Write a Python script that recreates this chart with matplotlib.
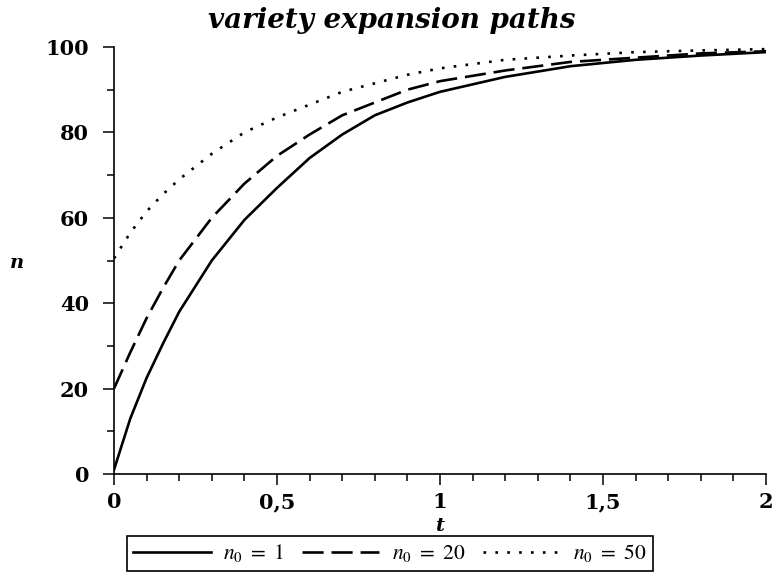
import matplotlib
matplotlib.use("Agg")
import matplotlib.pyplot as plt
from matplotlib.ticker import MultipleLocator, FuncFormatter

# values
t = [0, 0.05, 0.1, 0.15, 0.2, 0.3, 0.4, 0.5, 0.6, 0.7, 0.8, 0.9, 1.0, 1.2, 1.4, 1.6, 1.8, 2.0]
n_1 = [1, 13, 22.5, 30.5, 38, 50, 59.5, 67, 74, 79.5, 84, 87, 89.5, 93, 95.5, 97, 98, 98.8]
n_20 = [20, 28.5, 36.5, 43.5, 50, 60, 68, 74.5, 79.5, 84, 87, 90, 92, 94.5, 96.5, 97.5, 98.5, 99]
n_50 = [50.5, 56.5, 61.5, 65.5, 69, 75, 80, 83.5, 86.5, 89.5, 91.5, 93.5, 95, 97, 98, 98.8, 99.2, 99.5]
labels = [r"$n_0\ =\ 1$", r"$n_0\ =\ 20$", r"$n_0\ =\ 50$"]

plt.rcParams["mathtext.fontset"] = "stix"

fig = plt.figure(figsize=(7.72, 5.74), dpi=100)
ax = fig.add_axes([114 / 772, 1 - 474 / 574, (766 - 114) / 772, (474 - 47) / 574])

lw = 1.9
ax.plot(t, n_1, color="black", lw=lw, ls="-", label=labels[0])
ax.plot(t, n_20, color="black", lw=lw, ls=(0, (8, 3)), label=labels[1])
ax.plot(t, n_50, color="black", lw=lw, ls=(0, (1, 3.5)), label=labels[2])

ax.set_xlim(0, 2)
ax.set_ylim(0, 100)

# Maple style axes: only left and bottom lines
for side in ("top", "right"):
    ax.spines[side].set_visible(False)
for side in ("left", "bottom"):
    ax.spines[side].set_linewidth(1.2)

ax.xaxis.set_major_locator(MultipleLocator(0.5))
ax.xaxis.set_minor_locator(MultipleLocator(0.1))
ax.yaxis.set_major_locator(MultipleLocator(20))
ax.yaxis.set_minor_locator(MultipleLocator(10))
ax.xaxis.set_major_formatter(FuncFormatter(lambda v, p: f"{v:g}".replace(".", ",")))
ax.tick_params(which="major", length=8, width=1.1, direction="out")
ax.tick_params(which="minor", length=5, width=1.1, direction="out")
ax.tick_params(axis="y", pad=10)
ax.tick_params(axis="x", pad=5)
for lab in ax.get_xticklabels() + ax.get_yticklabels():
    lab.set_fontfamily("DejaVu Serif")
    lab.set_fontweight("bold")
    lab.set_fontsize(15)

fig.text(392 / 772, 1 - 20 / 574, "variety expansion paths", ha="center", va="center",
         family="DejaVu Serif", weight="bold", style="italic", fontsize=20)
fig.text(440 / 772, 1 - 526 / 574, "t", ha="center", va="center",
         family="DejaVu Serif", weight="bold", style="italic", fontsize=14)
fig.text(17 / 772, 1 - 263 / 574, "n", ha="center", va="center",
         family="DejaVu Serif", weight="bold", style="italic", fontsize=14)

leg = fig.legend(loc="center", bbox_to_anchor=(390 / 772, 1 - 553.5 / 574), ncol=3,
                 fontsize=15.5, frameon=True, fancybox=False, framealpha=1,
                 handlelength=3.6, handletextpad=0.6, columnspacing=0.8,
                 borderpad=0.3, borderaxespad=0)
leg.get_frame().set_edgecolor("black")
leg.get_frame().set_linewidth(1.2)

fig.savefig("out.png", dpi=100)
